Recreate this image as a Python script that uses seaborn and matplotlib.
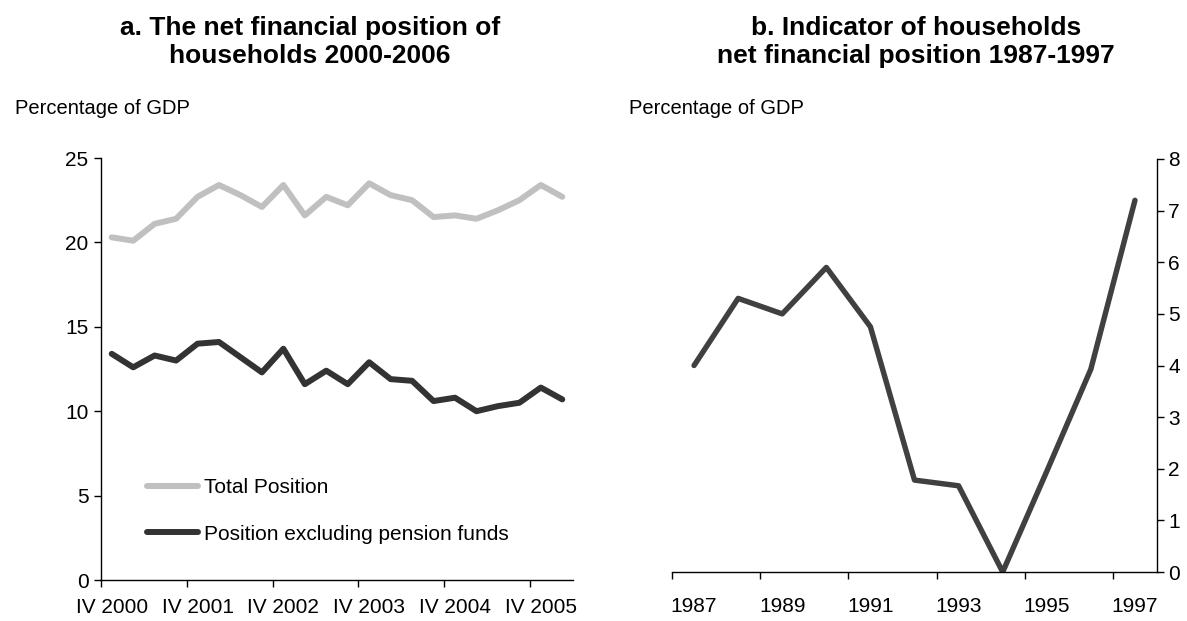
# Household net financial position: quarterly 2000-2006 (a) and annual indicator 1987-1997 (b)

import numpy as np
import pandas as pd
import seaborn as sns
import matplotlib.pyplot as plt
from matplotlib.lines import Line2D

sns.set_style("white")
plt.rcParams['font.family'] = ['Liberation Sans', 'DejaVu Sans']
plt.rcParams['text.color'] = 'black'
plt.rcParams['xtick.color'] = 'black'
plt.rcParams['ytick.color'] = 'black'
plt.rcParams['xtick.labelcolor'] = 'black'
plt.rcParams['ytick.labelcolor'] = 'black'

# Panel a data (percentage of GDP)
quarters = ['IV 2000', 'I 2001', 'II 2001', 'III 2001', 'IV 2001', 'I 2002', 'II 2002', 'III 2002',
            'IV 2002', 'I 2003', 'II 2003', 'III 2003', 'IV 2003', 'I 2004', 'II 2004', 'III 2004',
            'IV 2004', 'I 2005', 'II 2005', 'III 2005', 'IV 2005', 'I 2006']
total_position = [20.3, 20.1, 21.1, 21.4, 22.7, 23.4, 22.8, 22.1, 23.4, 21.6, 22.7,
                  22.2, 23.5, 22.8, 22.5, 21.5, 21.6, 21.4, 21.9, 22.5, 23.4, 22.7]
excl_pension = [13.4, 12.6, 13.3, 13.0, 14.0, 14.1, 13.2, 12.3, 13.7, 11.6, 12.4,
                11.6, 12.9, 11.9, 11.8, 10.6, 10.8, 10.0, 10.3, 10.5, 11.4, 10.7]

# Panel b data (percentage of GDP)
years = ['1987', '1988', '1989', '1990', '1991', '1992', '1993', '1994', '1995', '1996', '1997']
indicator = [4.0, 5.3, 5.0, 5.9, 4.75, 1.78, 1.67, 0.0, 1.95, 3.93, 7.2]

series_names = ['Total Position', 'Position excluding pension funds']
colors = {'Total Position': '#c0c0c0', 'Position excluding pension funds': '#333333'}

df_a = pd.concat([
    pd.DataFrame({'pos': np.arange(len(quarters)), 'value': total_position, 'series': series_names[0]}),
    pd.DataFrame({'pos': np.arange(len(quarters)), 'value': excl_pension, 'series': series_names[1]}),
], ignore_index=True)
df_b = pd.DataFrame({'pos': np.arange(len(years)), 'value': indicator})

W, H = 1187, 621
fig = plt.figure(figsize=(W / 100, H / 100), dpi=100)

tick_fs = 15

# ---- panel a ----
ax1 = fig.add_axes([101 / W, 1 - 580 / H, 472 / W, 422 / H])
sns.lineplot(data=df_a, x='pos', y='value', hue='series', palette=colors,
             linewidth=4.3, legend=False, ax=ax1)
ax1.set_xlim(-0.5, len(quarters) - 0.5)
ax1.set_ylim(0, 25)
ax1.set_yticks([0, 5, 10, 15, 20, 25])
ax1.set_xticks(np.arange(-0.5, len(quarters) - 1, 4))
ax1.set_xticklabels([])
ax1.set_xticks(np.arange(0, len(quarters), 4), minor=True)
ax1.set_xticklabels([quarters[i] for i in range(0, len(quarters), 4)], minor=True)
ax1.tick_params(axis='x', which='major', direction='out', length=5, width=1, color='black', bottom=True)
ax1.tick_params(axis='x', which='minor', length=0, pad=13, labelsize=tick_fs)
ax1.tick_params(axis='y', direction='out', length=5, width=1, color='black', left=True,
                pad=4, labelsize=tick_fs)
ax1.set_xlabel('')
ax1.set_ylabel('')
for s in ['top', 'right']:
    ax1.spines[s].set_visible(False)
for s in ['left', 'bottom']:
    ax1.spines[s].set_color('black')
    ax1.spines[s].set_linewidth(1)

handles = [Line2D([], [], color=colors[n], linewidth=4.3) for n in series_names]
ax1.legend(handles, series_names, loc='center left', bbox_to_anchor=(0.0975, 0.1635),
           frameon=False, fontsize=15, handlelength=2.45, handletextpad=0.3,
           labelspacing=1.3, borderpad=0, borderaxespad=0)

# ---- panel b ----
ax2 = fig.add_axes([672 / W, 1 - 572 / H, 485 / W, 413 / H])
sns.lineplot(data=df_b, x='pos', y='value', color='#404040', linewidth=3.9, ax=ax2)
ax2.set_xlim(-0.5, len(years) - 0.5)
ax2.set_ylim(0, 8)
ax2.set_yticks(range(0, 9))
ax2.yaxis.tick_right()
ax2.set_xticks([-0.5] + list(np.arange(1.5, len(years) - 1, 2)))
ax2.set_xticklabels([])
ax2.set_xticks(np.arange(0, len(years), 2), minor=True)
ax2.set_xticklabels([years[i] for i in range(0, len(years), 2)], minor=True)
ax2.tick_params(axis='x', which='major', direction='out', length=5, width=1, color='black', bottom=True)
ax2.tick_params(axis='x', which='minor', length=0, pad=18, labelsize=tick_fs)
ax2.tick_params(axis='y', direction='out', length=5, width=1, color='black', right=True,
                left=False, pad=3, labelsize=tick_fs)
ax2.set_xlabel('')
ax2.set_ylabel('')
for s in ['top', 'left']:
    ax2.spines[s].set_visible(False)
for s in ['right', 'bottom']:
    ax2.spines[s].set_color('black')
    ax2.spines[s].set_linewidth(1)

# ---- titles and unit labels ----
fig.text(310 / W, 1 - 42 / H, 'a. The net financial position of\nhouseholds 2000-2006',
         ha='center', va='center', fontsize=19, fontweight='bold', linespacing=1.25)
fig.text(916 / W, 1 - 42 / H, 'b. Indicator of households\nnet financial position 1987-1997',
         ha='center', va='center', fontsize=19, fontweight='bold', linespacing=1.25)
fig.text(15 / W, 1 - 109 / H, 'Percentage of GDP', ha='left', va='center', fontsize=14.5)
fig.text(629 / W, 1 - 109 / H, 'Percentage of GDP', ha='left', va='center', fontsize=14.5)

plt.savefig('out.png', dpi=100)
